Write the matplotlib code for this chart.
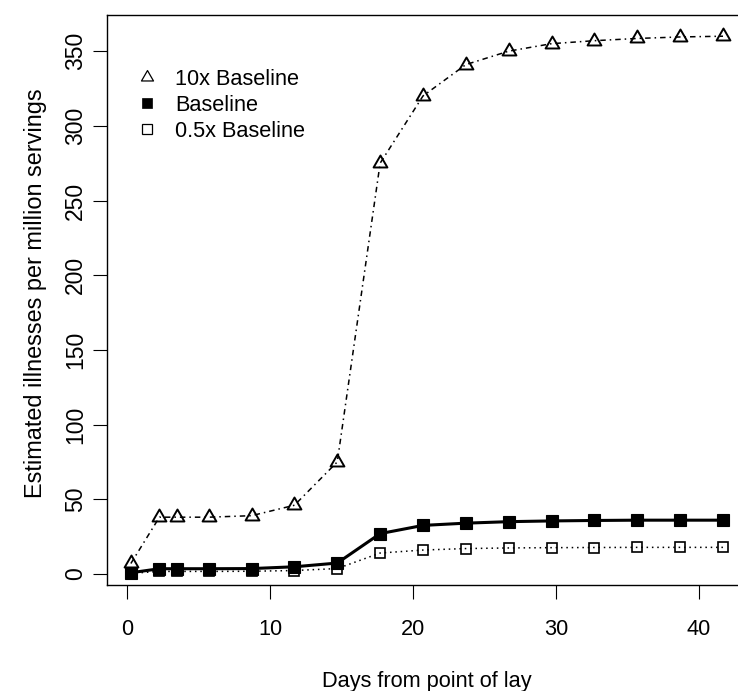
import matplotlib
matplotlib.use("Agg")
import matplotlib.pyplot as plt
from matplotlib.lines import Line2D
from matplotlib.path import Path

plt.rcParams['font.family'] = ['Liberation Sans', 'DejaVu Sans']

days = [0.25, 2.25, 3.5, 5.7, 8.7, 11.7, 14.7, 17.7, 20.7, 23.7, 26.7, 29.7, 32.7, 35.7, 38.7, 41.7]
ten_x = [7, 38, 38, 38, 39, 46, 75, 275, 320, 341, 350, 355, 357, 358.5, 359.5, 360]
baseline = [0.8, 3.5, 3.5, 3.5, 3.6, 4.8, 7.3, 27, 32.5, 34, 35, 35.5, 35.8, 36, 36, 36]
half_x = [0.4, 1.7, 1.7, 1.7, 1.8, 2.3, 3.6, 14, 16, 17, 17.4, 17.6, 17.7, 17.8, 17.8, 17.8]
labels = ["10x Baseline", "Baseline", "0.5x Baseline"]
xticks = [0, 10, 20, 30, 40]
yticks = [0, 50, 100, 150, 200, 250, 300, 350]

W, H = 738, 691
fig = plt.figure(figsize=(W / 100, H / 100), dpi=100)
ax = fig.add_axes([107 / W, (H - 585) / H, 640 / W, 570 / H])

tri = Path([(0, 1), (-0.866, -0.5), (0.866, -0.5), (0, 1)],
           [Path.MOVETO, Path.LINETO, Path.LINETO, Path.CLOSEPOLY])

ax.plot(days, half_x, color='black', lw=1.1, linestyle=(0, (1, 2.5)),
        marker='s', ms=7, mfc='none', mec='black', mew=1.2, zorder=2)
ax.plot(days, baseline, color='black', lw=2.2, linestyle='-',
        marker='s', ms=8, mfc='black', mec='black', mew=0.8, zorder=3)
ax.plot(days, ten_x, color='black', lw=1.1, linestyle=(0, (3.6, 2.6, 1, 2.6)),
        marker=tri, ms=11.5, mfc='none', mec='black', mew=1.4, zorder=4)

ax.set_xlim(-1.42, 43.38)
ax.set_ylim(-7.4, 374.2)
ax.set_xticks(xticks)
ax.set_yticks(yticks)
ax.set_xticklabels([str(v) for v in xticks], fontsize=15.7)
ax.set_yticklabels([str(v) for v in yticks], rotation=90, va='center', fontsize=16.5)
ax.tick_params(axis='both', direction='out', length=10, width=0.8, colors='black')
ax.tick_params(axis='x', pad=14.5)
ax.tick_params(axis='y', pad=4.3)
for s in ['left', 'bottom', 'top']:
    ax.spines[s].set_linewidth(1.0)
ax.spines['right'].set_visible(False)

ax.set_xlabel("Days from point of lay", fontsize=15.7)
ax.set_ylabel("Estimated illnesses per million servings", fontsize=16.9)
ax.xaxis.set_label_coords(0.5, -0.151)
ax.yaxis.set_label_coords(-0.0937, 0.512)

handles = [
    Line2D([], [], linestyle='none', marker=tri, ms=10, mfc='none', mec='black', mew=0.9),
    Line2D([], [], linestyle='none', marker='s', ms=7, mfc='black', mec='black', mew=0.5),
    Line2D([], [], linestyle='none', marker='s', ms=6.5, mfc='none', mec='black', mew=0.9),
]
ax.legend(handles, labels, loc='upper left', bbox_to_anchor=(136 / W, 1 - 69 / H),
          bbox_transform=fig.transFigure, frameon=False, fontsize=15.7,
          handlelength=1.0, handletextpad=0.79, labelspacing=0.225, borderpad=0,
          borderaxespad=0)

fig.savefig("out.png", dpi=100)
